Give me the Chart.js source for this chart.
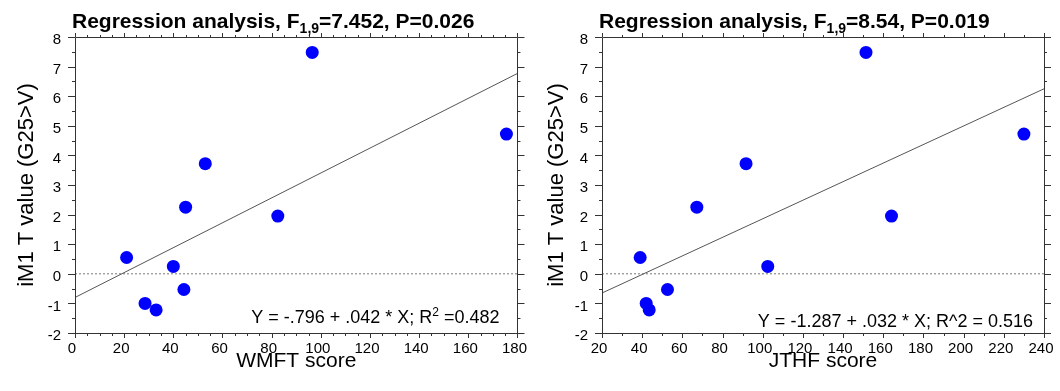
<!DOCTYPE html>
<html>
<head>
<meta charset="utf-8">
<script src="https://cdn.jsdelivr.net/npm/chart.js@4.4.0/dist/chart.umd.min.js"></script>
<style>
  body { margin: 0; background: #fff; }
  .panel { position: absolute; top: 0; width: 530px; height: 391px; }
</style>
</head>
<body>
<div class="panel" style="left:0"><canvas id="wmft-chart" width="530" height="391"></canvas></div>
<div class="panel" style="left:530px"><canvas id="jthf-chart" width="530" height="391"></canvas></div>
<script>
// iM1 T value per subject (same subjects in both panels)
const tValues = [0.55, -1.0, -1.22, 0.25, -0.53, 2.25, 3.72, 1.95, 7.48, 4.72];
const wmftScores = [21, 28.5, 33, 40, 44.3, 45, 53, 82.5, 96.5, 175.5];
const jthfScores = [39, 42, 43.5, 102.5, 52.6, 67.2, 91.7, 164.1, 151.4, 230];

// fitted regression lines (end points)
const wmftFitX = [0, 180];
const wmftFitY = [-0.80, 6.77];
const jthfFitX = [20, 240];
const jthfFitY = [-0.65, 6.25];

const yTicks = [-2, 8];
const wmftRange = [0, 180];
const jthfRange = [20, 240];

const FONT = "'Liberation Sans', Arial, sans-serif";

// title with subscript and equation text with superscript
const textPlugin = {
    id: 'regText',
    afterDraw(chart, args, opts) {
        const ctx = chart.ctx;
        const area = chart.chartArea;
        ctx.save();
        ctx.fillStyle = '#000';
        ctx.textBaseline = 'alphabetic';

        function measure(parts, big, small, weight) {
            let w = 0;
            parts.forEach(p => {
                ctx.font = weight + ' ' + (p.sub || p.sup ? small : big) + 'px ' + FONT;
                w += ctx.measureText(p.t).width;
            });
            return w;
        }
        function drawParts(parts, x, y, big, small, weight) {
            parts.forEach(p => {
                ctx.font = weight + ' ' + (p.sub || p.sup ? small : big) + 'px ' + FONT;
                let dy = 0;
                if (p.sub) dy = 5;
                if (p.sup) dy = -7;
                ctx.fillText(p.t, x, y + dy);
                x += ctx.measureText(p.t).width;
            });
        }

        drawParts(opts.title, area.left - 3, 28, 21, 14, 'bold');

        const w = measure(opts.eqn, 18, 12, 'normal');
        drawParts(opts.eqn, area.right - opts.eqnRight - w, opts.eqnY, 18, 12, 'normal');
        ctx.restore();
    }
};

// box around the plot with major / minor ticks on all four sides
const framePlugin = {
    id: 'frameTicks',
    afterDatasetsDraw(chart, args, opts) {
        const ctx = chart.ctx;
        const a = chart.chartArea;
        const xs = chart.scales.x;
        const ys = chart.scales.y;
        ctx.save();
        ctx.strokeStyle = '#333';
        ctx.lineWidth = 1;
        ctx.beginPath();
        ctx.rect(Math.round(a.left) + 0.5, Math.round(a.top) + 0.5,
                 Math.round(a.right - a.left), Math.round(a.bottom - a.top));

        for (let v = xs.min; v <= xs.max + 1e-9; v += opts.xMinor) {
            const px = Math.round(xs.getPixelForValue(v)) + 0.5;
            const major = Math.abs((v - xs.min) % opts.xMajor) < 1e-6;
            const lb = major ? 5 : 3;
            const lt = major ? 4 : 2;
            ctx.moveTo(px, a.bottom);
            ctx.lineTo(px, a.bottom + lb);
            ctx.moveTo(px, a.top);
            ctx.lineTo(px, a.top - lt);
        }
        for (let v = ys.min; v <= ys.max + 1e-9; v += 0.5) {
            const py = Math.round(ys.getPixelForValue(v)) + 0.5;
            const major = Math.abs(v % 1) < 1e-6;
            const l = major ? 7 : 3;
            ctx.moveTo(a.left - l, py);
            ctx.lineTo(a.left, py);
            ctx.moveTo(a.right, py);
            ctx.lineTo(a.right + l, py);
        }
        ctx.stroke();
        ctx.restore();
    }
};

function makeChart(canvasId, xs, fitX, fitY, range, xStep, xMinor, xTitle, leftWidth, rightWidth, text) {
    const ctx = document.getElementById(canvasId).getContext('2d');

    const points = xs.map((x, i) => ({ x: x, y: tValues[i] }));
    const fitLine = fitX.map((x, i) => ({ x: x, y: fitY[i] }));
    const zeroLine = range.map(x => ({ x: x, y: 0 }));

    const tickFont = { family: FONT, size: 15 };

    return new Chart(ctx, {
        type: 'scatter',
        data: {
            datasets: [
                {
                    data: points,
                    backgroundColor: '#0000ff',
                    borderWidth: 0,
                    pointRadius: 6.5,
                    order: 0
                },
                {
                    data: fitLine,
                    showLine: true,
                    borderColor: '#555',
                    borderWidth: 1,
                    pointRadius: 0,
                    order: 1
                },
                {
                    data: zeroLine,
                    showLine: true,
                    borderColor: '#777',
                    borderWidth: 1,
                    borderDash: [2, 2],
                    pointRadius: 0,
                    order: 2
                }
            ]
        },
        options: {
            responsive: false,
            animation: false,
            events: [],
            layout: { padding: 0 },
            plugins: {
                legend: { display: false },
                tooltip: { enabled: false },
                regText: text,
                frameTicks: { xMajor: xStep, xMinor: xMinor }
            },
            scales: {
                x: {
                    type: 'linear',
                    position: 'bottom',
                    min: range[0],
                    max: range[1],
                    afterFit: s => { s.height = 58; },
                    grid: { display: false, drawTicks: true, tickLength: 7 },
                    border: { display: false },
                    ticks: { stepSize: xStep, padding: 0, labelOffset: -3, font: tickFont, color: '#000', maxRotation: 0 },
                    title: { display: true, text: xTitle, font: { family: FONT, size: 21 }, color: '#000', padding: { top: 0, bottom: 17 } }
                },
                y: {
                    type: 'linear',
                    position: 'left',
                    min: yTicks[0],
                    max: yTicks[1],
                    afterFit: s => { s.width = leftWidth; },
                    grid: { display: false, drawTicks: true, tickLength: 14 },
                    border: { display: false },
                    ticks: { stepSize: 1, padding: 0, labelOffset: 3, font: tickFont, color: '#000' },
                    title: { display: true, text: 'iM1 T value (G25>V)', font: { family: FONT, size: 22 }, color: '#000', padding: { top: 14, bottom: 0 } }
                },
                xTop: {
                    type: 'linear',
                    position: 'top',
                    min: range[0],
                    max: range[1],
                    afterFit: s => { s.height = 37; },
                    grid: { display: false, drawTicks: false },
                    border: { display: false },
                    ticks: { display: false }
                },
                yRight: {
                    type: 'linear',
                    position: 'right',
                    min: yTicks[0],
                    max: yTicks[1],
                    afterFit: s => { s.width = rightWidth; },
                    grid: { display: false, drawTicks: false },
                    border: { display: false },
                    ticks: { display: false }
                }
            }
        },
        plugins: [framePlugin, textPlugin]
    });
}

makeChart('wmft-chart', wmftScores, wmftFitX, wmftFitY, wmftRange, 20, 5, 'WMFT score', 75, 12, {
    title: [{ t: 'Regression analysis, F' }, { t: '1,9', sub: true }, { t: '=7.452, P=0.026' }],
    eqn: [{ t: 'Y = -.796 + .042 * X; R' }, { t: '2', sup: true }, { t: ' =0.482' }],
    eqnRight: 18,
    eqnY: 323
});

makeChart('jthf-chart', jthfScores, jthfFitX, jthfFitY, jthfRange, 20, 10, 'JTHF score', 72, 16, {
    title: [{ t: 'Regression analysis, F' }, { t: '1,9', sub: true }, { t: '=8.54, P=0.019' }],
    eqn: [{ t: 'Y = -1.287 + .032 * X; R^2 = 0.516' }],
    eqnRight: 11,
    eqnY: 327
});
</script>
</body>
</html>
